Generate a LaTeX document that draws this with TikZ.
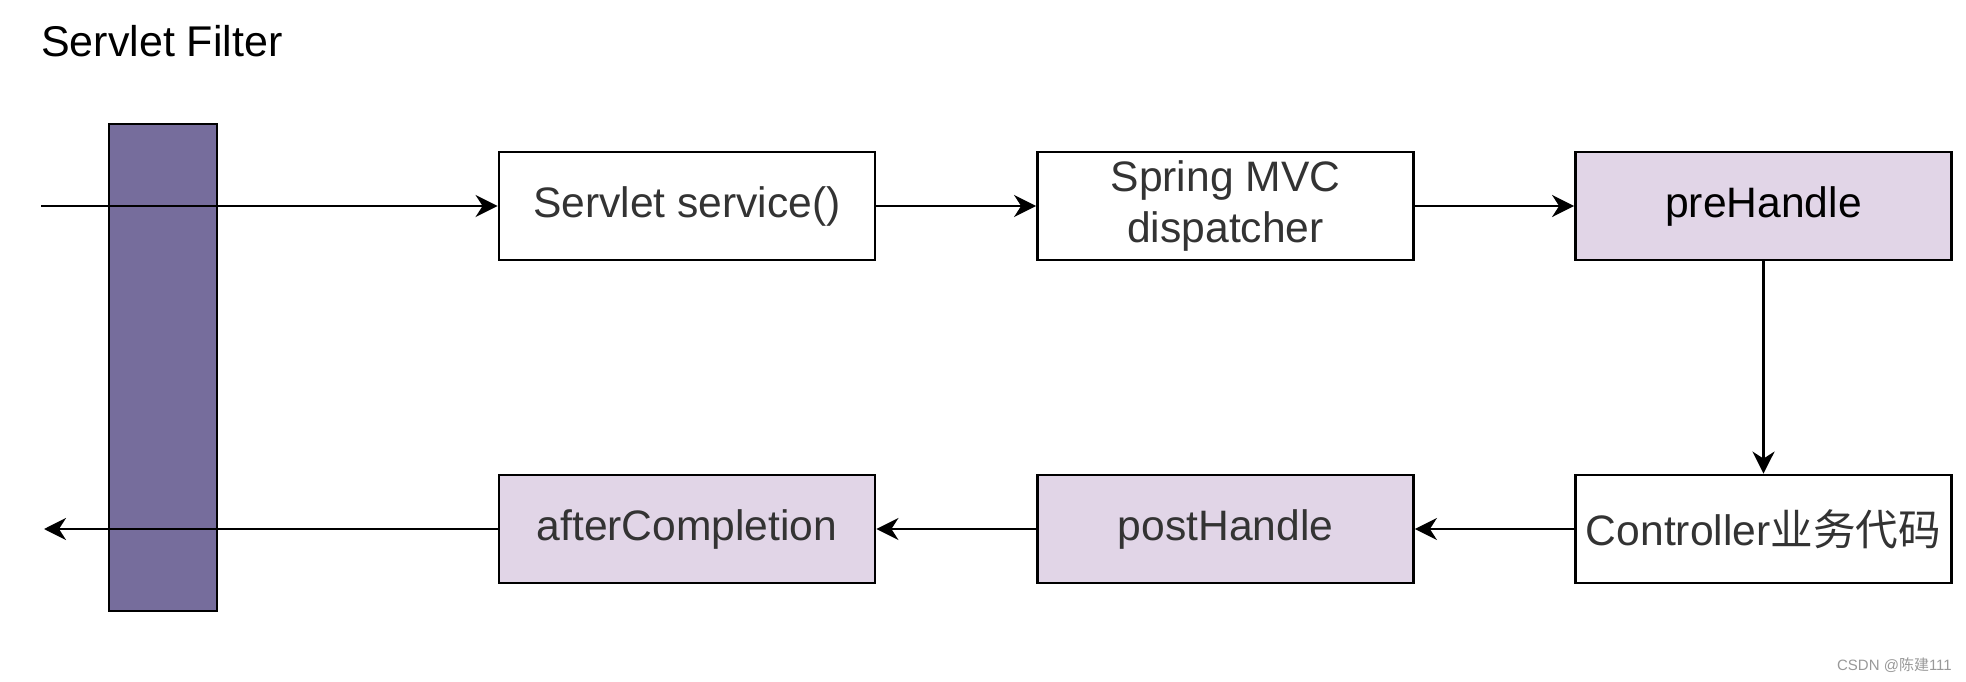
\documentclass[tikz,border=0pt]{standalone}
\usepackage{fontspec}
\setmainfont{Liberation Sans}
\newfontfamily\cjk{Noto Sans CJK SC}
\usetikzlibrary{arrows.meta}
\definecolor{barpurple}{RGB}{118,109,156}
\definecolor{lightpurple}{RGB}{225,213,231}
\definecolor{txtgray}{RGB}{51,51,51}
\begin{document}
\begin{tikzpicture}[x=1pt,y=-1pt,
  box/.style={draw=black, line width=2.8pt, minimum width=376pt, minimum height=108pt,
    inner sep=0pt, align=center, font=\fontsize{42.6}{51}\selectfont, text=txtgray},
  hbox/.style={box, fill=lightpurple},
  conn/.style={line width=2.8pt, -{Stealth[length=22pt,width=22pt,inset=7pt]}}]
\useasboundingbox (0,0) rectangle (1966,682);
\node[anchor=base west, inner sep=0pt, font=\fontsize{43}{52}\selectfont] (title) at (41,57) {Servlet Filter};
\node[draw=black, line width=2.8pt, fill=barpurple, minimum width=108pt, minimum height=487pt, inner sep=0pt] (bar) at (163,367.5) {};
\node[box] (svc) at (687,206) {Servlet service()};
\node[box] (mvc) at (1225.5,206) {Spring MVC\\dispatcher};
\node[hbox, text=black] (pre) at (1763.5,206) {preHandle};
\node[box] (ctrl) at (1763.5,529) {Controller{\cjk 业务代码}};
\node[hbox] (post) at (1225.5,529) {postHandle};
\node[hbox] (after) at (687,529) {afterCompletion};
\coordinate (in) at (41,206);
\coordinate (out) at (44,529);
\draw[conn] (in) -- (svc);
\draw[conn] (svc) -- (mvc);
\draw[conn] (mvc) -- (pre);
\draw[conn] (pre) -- (ctrl);
\draw[conn] (ctrl) -- (post);
\draw[conn] (post) -- (after);
\draw[conn] (after) -- (out);
\node[anchor=east, inner sep=0pt, text=black!40, font=\fontsize{15}{17}\selectfont] (wm) at (1952,665) {CSDN @{\cjk 陈建}111};
\end{tikzpicture}
\end{document}
